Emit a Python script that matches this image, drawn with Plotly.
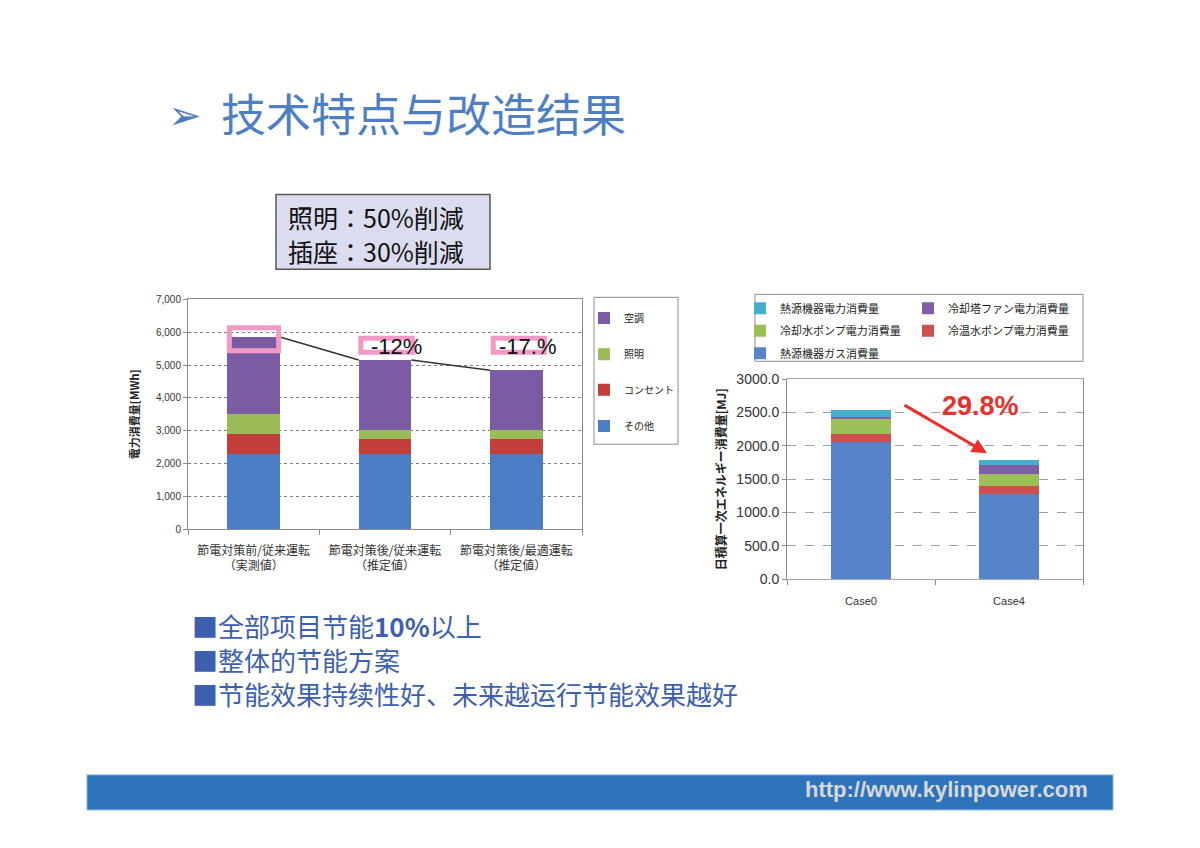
import plotly.graph_objects as go

W, H = 1200, 848

# ---------------- Left chart data ----------------
left_categories = ["節電対策前/従来運転<br>（実測値）",
                   "節電対策後/従来運転<br>（推定値）",
                   "節電対策後/最適運転<br>（推定値）"]
left_series = ["その他", "コンセント", "照明", "空調"]
other_vals = [2300, 2300, 2300]
outlet_vals = [590, 440, 440]
lighting_vals = [610, 280, 280]
hvac_vals = [2350, 2130, 1820]
left_colors = ["#4A7DC4", "#C23E3B", "#9BBB59", "#7A5BA4"]
reduction_labels = ["", "-12%", "-17.%"]
left_yticks = [0, 1000, 2000, 3000, 4000, 5000, 6000, 7000]

# ---------------- Right chart data ----------------
right_categories = ["Case0", "Case4"]
right_series = ["熱源機器ガス消費量", "冷温水ポンプ電力消費量", "冷却水ポンプ電力消費量",
                "冷却塔ファン電力消費量", "熱源機器電力消費量"]
gas_vals = [2060, 1275]
chw_pump_vals = [115, 125]
cw_pump_vals = [225, 175]
tower_fan_vals = [40, 135]
heat_elec_vals = [105, 75]
right_colors = ["#5585C8", "#CF504C", "#9CC058", "#7F5EA5", "#45AFCB"]
reduction_text = "29.8%"

# ---------------- Slide text ----------------
title_text = "技术特点与改造结果"
box_lines = ["照明：50%削減", "插座：30%削減"]
bullet_lines = ["■全部项目节能<b>10%</b>以上", "■整体的节能方案", "■节能效果持续性好、未来越运行节能效果越好"]
footer_text = "http://www.kylinpower.com"


def px(x):
    return x / W


def py(y):
    return 1 - y / H


def cy(y):
    # small vertical correction observed in the rendered page
    return (y - 6.4) / 0.982


fig = go.Figure()

# left stacked bars
left_x = list(range(len(left_categories)))
left_data = [other_vals, outlet_vals, lighting_vals, hvac_vals]
left_legends = ["legend7", "legend6", "legend5", "legend"]
for name, vals, col, lg in zip(left_series, left_data, left_colors, left_legends):
    fig.add_trace(go.Bar(x=left_x, y=vals, name=name, marker=dict(color=col, line=dict(width=0)),
                         width=0.4, xaxis="x", yaxis="y", legend=lg, showlegend=True))

totals = [sum(v) for v in zip(*left_data)]
fig.add_trace(go.Scatter(x=[0.2, 0.8, None, 1.2, 1.8],
                         y=[totals[0], totals[1], None, totals[1], totals[2]],
                         mode="lines", line=dict(color="#333333", width=1.5),
                         xaxis="x", yaxis="y", showlegend=False, hoverinfo="skip"))

# right stacked bars
right_x = list(range(len(right_categories)))
right_data = [gas_vals, chw_pump_vals, cw_pump_vals, tower_fan_vals, heat_elec_vals]
right_legends = ["legend4", "legend3", "legend3", "legend2", "legend2"]
right_ranks = [5, 4, 3, 2, 1]
for name, vals, col, lg, rk in zip(right_series, right_data, right_colors, right_legends, right_ranks):
    fig.add_trace(go.Bar(x=right_x, y=vals, name=name, marker=dict(color=col, line=dict(width=0)),
                         width=0.4, xaxis="x2", yaxis="y2", legend=lg, legendrank=rk, showlegend=True))

cjk_jp = "Noto Sans CJK JP"
cjk_sc = "Noto Sans CJK SC"
latin = "Liberation Sans"

shapes = []
annotations = []

# pink highlight boxes
pink = "#F29AC6"
for (x0, x1, y0, y1) in [(-0.185, 0.19, 5433, 6133), (0.816, 1.21, 5391, 5817), (1.824, 2.213, 5391, 5817)]:
    shapes.append(dict(type="rect", xref="x", yref="y", x0=x0, x1=x1, y0=y0, y1=y1,
                       line=dict(color=pink, width=5), fillcolor="rgba(0,0,0,0)", layer="above"))
for i, lab in enumerate(reduction_labels):
    if lab:
        annotations.append(dict(xref="x", yref="y", x=i + 0.085, y=5560, text=lab, showarrow=False,
                                font=dict(family=latin, size=22, color="#111111")))

# right chart arrow + label
annotations.append(dict(xref="x2", yref="y2", x=0.851, y=1890, ax=0.284, ay=2625,
                        axref="x2", ayref="y2", text="", showarrow=True, arrowhead=2,
                        arrowsize=1, arrowwidth=3, arrowcolor="#E8312B"))
annotations.append(dict(xref="x2", yref="y2", x=0.81, y=2595, text="<b>%s</b>" % reduction_text,
                        showarrow=False, font=dict(family=latin, size=27, color="#E8312B")))

# legend frames
shapes.append(dict(type="rect", xref="paper", yref="paper", x0=px(594), x1=px(678),
                   y0=py(cy(443)), y1=py(cy(296)),
                   line=dict(color="#8C8C8C", width=1), fillcolor="rgba(0,0,0,0)"))
shapes.append(dict(type="rect", xref="paper", yref="paper", x0=px(755), x1=px(1083),
                   y0=py(cy(360)), y1=py(cy(293)),
                   line=dict(color="#8C8C8C", width=1), fillcolor="rgba(0,0,0,0)"))

# lavender box
shapes.append(dict(type="rect", xref="paper", yref="paper", x0=px(276), x1=px(490),
                   y0=py(cy(268)), y1=py(cy(193)),
                   line=dict(color="#555555", width=1.5), fillcolor="#DCDCF0"))
for i, t in enumerate(box_lines):
    annotations.append(dict(xref="paper", yref="paper", x=px(286), y=py(213 + 35 * i), xanchor="left",
                            yanchor="middle", text=t, showarrow=False,
                            font=dict(family=cjk_jp, size=25, color="#111111")))

# title
annotations.append(dict(xref="paper", yref="paper", x=px(166), y=py(109), xanchor="left", yanchor="middle",
                        text="➢", showarrow=False, font=dict(family="DejaVu Sans", size=40, color="#4A7CC0")))
annotations.append(dict(xref="paper", yref="paper", x=px(219), y=py(107), xanchor="left", yanchor="middle",
                        text=title_text, showarrow=False, font=dict(family=cjk_sc, size=45, color="#4F7FC3")))

# bullets (one multi-line text block)
annotations.append(dict(xref="paper", yref="paper", x=px(190), y=py(664), xanchor="left",
                        yanchor="middle", align="left", text="<br>".join(bullet_lines), showarrow=False,
                        font=dict(family=cjk_sc, size=26, color="#3D5FAF")))

# footer
shapes.append(dict(type="rect", xref="paper", yref="paper", x0=px(87), x1=px(1113),
                   y0=py(cy(809)), y1=py(cy(774)),
                   line=dict(width=1, color="#86B0E0"), fillcolor="#2E74BA"))
annotations.append(dict(xref="paper", yref="paper", x=px(1090), y=py(797), xanchor="right", yanchor="middle",
                        text="<b>%s</b>" % footer_text, showarrow=False,
                        font=dict(family=latin, size=22, color="#D8D8D8")))


def leg(x, y, font_size, entrywidth=None):
    d = dict(x=px(x), y=py(y), xanchor="left", yanchor="middle", orientation="h",
             traceorder="normal", bgcolor="rgba(0,0,0,0)", borderwidth=0,
             font=dict(family=cjk_jp, size=font_size, color="#222222"))
    if entrywidth:
        d["entrywidth"] = entrywidth
        d["entrywidthmode"] = "pixels"
    return d


fig.update_layout(
    width=W, height=H, margin=dict(l=0, r=0, t=0, b=0),
    paper_bgcolor="white", plot_bgcolor="white",
    barmode="stack", bargap=0.6,
    font=dict(family=cjk_jp, size=10, color="#222222"),
    xaxis=dict(domain=[px(188), px(582)], range=[-0.5, 2.5], tickvals=left_x, ticktext=left_categories,
               tickfont=dict(family=cjk_jp, size=12, color="#333333"), ticks="", showgrid=False,
               showline=True, linecolor="#8C8C8C", linewidth=1, mirror=True, zeroline=False,
               ticklabelstandoff=10,
               minor=dict(tickvals=[-0.5, 0.5, 1.5, 2.5], ticks="outside", ticklen=5, tickcolor="#8C8C8C"),
               anchor="y", fixedrange=True),
    yaxis=dict(domain=[py(cy(528)), py(cy(298))], range=[0, 7000], tickvals=left_yticks, tickformat=",",
               tickfont=dict(family=latin, size=10, color="#333333"), ticks="outside", ticklen=4,
               tickcolor="#8C8C8C", showgrid=True, gridcolor="#7F7F7F", griddash="dot", gridwidth=1,
               showline=True, linecolor="#8C8C8C", mirror=True, zeroline=False,
               title=dict(text="<b>電力消費量[MWh]</b>", font=dict(family=cjk_jp, size=11, color="#222222"),
                          standoff=14),
               anchor="x", fixedrange=True),
    xaxis2=dict(domain=[px(787), px(1083)], range=[-0.5, 1.5], tickvals=right_x, ticktext=right_categories,
                tickfont=dict(family=latin, size=11, color="#333333"), ticks="", showgrid=False,
                showline=True, linecolor="#A6A6A6", mirror=True, zeroline=False, ticklabelstandoff=12,
                minor=dict(tickvals=[-0.5, 0.5, 1.5], ticks="outside", ticklen=5, tickcolor="#8C8C8C"),
                anchor="y2", fixedrange=True),
    yaxis2=dict(domain=[py(cy(578)), py(cy(378))], range=[0, 3000], dtick=500, tickformat=".1f",
                tickfont=dict(family=latin, size=14, color="#333333"), ticks="outside", ticklen=4,
                tickcolor="#8C8C8C", showgrid=True, gridcolor="#A0A0A0", griddash="dash",
                showline=True, linecolor="#8C8C8C", mirror=True, zeroline=False,
                title=dict(text="<b>日積算一次エネルギー消費量[MJ]</b>",
                           font=dict(family=cjk_jp, size=12, color="#222222"), standoff=7),
                anchor="x2", fixedrange=True),
    legend=leg(584, 316, 10),
    legend5=leg(584, 353, 10),
    legend6=leg(584, 389, 10),
    legend7=leg(584, 426, 10),
    legend2=leg(740, 306, 11, 123),
    legend3=leg(740, 329, 11, 123),
    legend4=leg(740, 352, 11, 123),
    shapes=shapes,
    annotations=annotations,
)

fig.write_html("out.html", config={"displayModeBar": False},
               post_script=("document.documentElement.style.margin='0px';"
                            "document.body.style.margin='0px';"
                            "document.body.style.overflow='hidden';"
                            "document.documentElement.style.overflow='hidden';"))
